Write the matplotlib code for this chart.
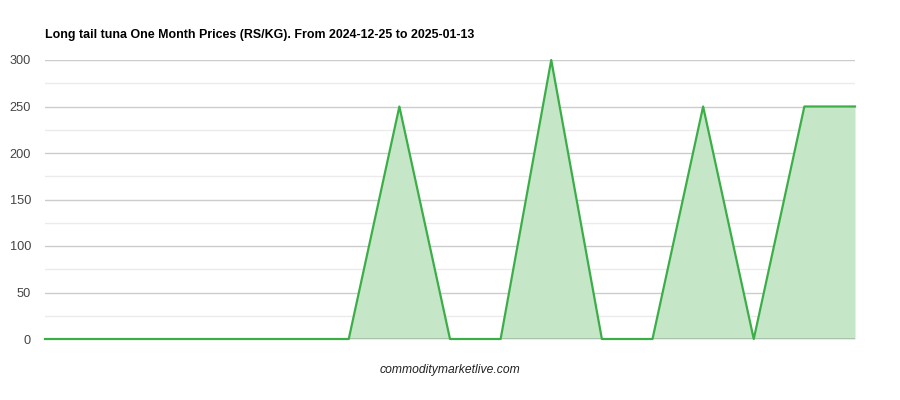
import matplotlib
matplotlib.use("Agg")
import matplotlib.pyplot as plt

# price values (RS/KG), one per data point
prices = [0, 0, 0, 0, 0, 0, 0, 250, 0, 0, 300, 0, 0, 250, 0, 250, 250]
points = list(range(len(prices)))
y_ticks = [0, 50, 100, 150, 200, 250, 300]
y_minor = [25, 75, 125, 175, 225, 275]

title = "Long tail tuna One Month Prices (RS/KG). From 2024-12-25 to 2025-01-13"
footer = "commoditymarketlive.com"

plt.rcParams["font.family"] = ["Liberation Sans", "DejaVu Sans"]

fig = plt.figure(figsize=(9, 4), dpi=100)
ax = fig.add_axes([0.05, 1 - 339 / 400, 0.90, (339 - 60) / 400])

# gridlines
for v in y_minor:
    ax.axhline(v, color="#ebebeb", linewidth=1, zorder=0)
for v in y_ticks[1:]:
    ax.axhline(v, color="#cccccc", linewidth=1, zorder=0)

ax.fill_between(points, prices, 0, color="#c5e7c7", zorder=1, linewidth=0)
ax.axhline(0, color="#333333", linewidth=1, zorder=2)
ax.plot(points, prices, color="#3bae48", linewidth=1.6, zorder=3, clip_on=False)

ax.set_xlim(points[0], points[-1])
ax.set_ylim(0, 300)
ax.set_yticks(y_ticks)
ax.set_yticklabels([str(v) for v in y_ticks], fontsize=9.2, color="#444444")
ax.set_xticks([])
ax.tick_params(axis="y", length=0, pad=10)
for s in ax.spines.values():
    s.set_visible(False)

fig.text(0.05, 1 - 35 / 400, title, fontsize=8.9, fontweight="bold", va="center", ha="left", color="#000000")
fig.text(0.5, 1 - 370 / 400, footer, fontsize=8.7, fontstyle="italic", va="center", ha="center", color="#222222")

fig.savefig("out.png", dpi=100)
